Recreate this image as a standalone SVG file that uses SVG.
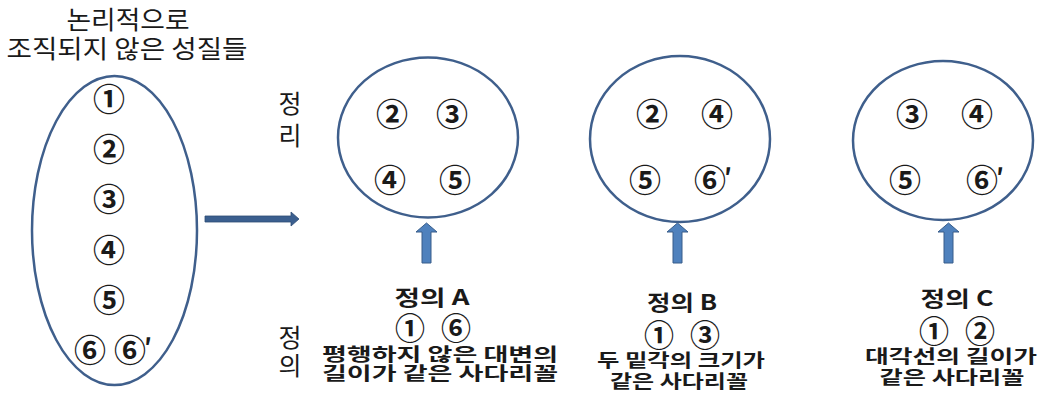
<svg xmlns="http://www.w3.org/2000/svg" width="1042" height="393" viewBox="0 0 1042 393">
<style>
.bg{fill:#ffffff}
.set{fill:none;stroke:#3f5f8c;stroke-width:2.5}
.t{font-family:"Noto Sans CJK KR","Noto Sans",sans-serif;fill:#1a1a1a}
.title{font-size:25px;font-weight:400;text-anchor:middle}
.side{font-size:25px;font-weight:400;text-anchor:middle}
.num{font-size:32px;font-weight:700;text-anchor:middle}
.nump{font-size:32px;font-weight:700;text-anchor:start}
.pr{font-size:24px;font-weight:700}
.head{font-size:21px;font-weight:700;text-anchor:middle}
.lab{font-size:18px;font-weight:700;text-anchor:middle}
.arrowR{fill:#3b5f8f;stroke:#2f4d75;stroke-width:0.8}
.arrowU{fill:#4f81bd;stroke:#385d8a;stroke-width:1}
</style>
<rect class="bg" x="0" y="0" width="1042" height="393"/>

<g id="title">
<text class="t title" x="128" y="18" dominant-baseline="central" textLength="123" lengthAdjust="spacingAndGlyphs">논리적으로</text>
<text class="t title" x="127" y="47" dominant-baseline="central" textLength="241" lengthAdjust="spacingAndGlyphs">조직되지 않은 성질들</text>
</g>

<g id="side-labels">
<text class="t side" x="290" y="102" dominant-baseline="central">정</text>
<text class="t side" x="290" y="134" dominant-baseline="central">리</text>
<text class="t side" x="290" y="336" dominant-baseline="central">정</text>
<text class="t side" x="290" y="364" dominant-baseline="central">의</text>
</g>

<g id="unorganized">
<ellipse class="set" cx="114.5" cy="230.5" rx="82.5" ry="154.5"/>
<text class="t num" x="109" y="97" dominant-baseline="central">①</text>
<text class="t num" x="109" y="147" dominant-baseline="central">②</text>
<text class="t num" x="109" y="197" dominant-baseline="central">③</text>
<text class="t num" x="109" y="248" dominant-baseline="central">④</text>
<text class="t num" x="109" y="298" dominant-baseline="central">⑤</text>
<text class="t num" x="90" y="348" dominant-baseline="central">⑥</text>
<text class="t nump" x="114" y="348" dominant-baseline="central">⑥<tspan class="pr" dx="-2" dy="-3">′</tspan></text>
</g>

<g id="theoremA">
<ellipse class="set" cx="428" cy="137.5" rx="90" ry="80"/>
<text class="t num" x="392" y="112" dominant-baseline="central">②</text>
<text class="t num" x="452" y="112" dominant-baseline="central">③</text>
<text class="t num" x="390" y="178" dominant-baseline="central">④</text>
<text class="t num" x="455" y="178" dominant-baseline="central">⑤</text>
</g>

<g id="theoremB">
<ellipse class="set" cx="680" cy="139" rx="90" ry="83"/>
<text class="t num" x="652" y="112" dominant-baseline="central">②</text>
<text class="t num" x="717" y="112" dominant-baseline="central">④</text>
<text class="t num" x="645" y="178" dominant-baseline="central">⑤</text>
<text class="t nump" x="694" y="178" dominant-baseline="central">⑥<tspan class="pr" dx="-2" dy="-3">′</tspan></text>
</g>

<g id="theoremC">
<ellipse class="set" cx="943" cy="140.5" rx="90" ry="79.5"/>
<text class="t num" x="912" y="112" dominant-baseline="central">③</text>
<text class="t num" x="977" y="112" dominant-baseline="central">④</text>
<text class="t num" x="905" y="178" dominant-baseline="central">⑤</text>
<text class="t nump" x="966" y="178" dominant-baseline="central">⑥<tspan class="pr" dx="-2" dy="-3">′</tspan></text>
</g>

<g id="defA">
<text class="t head" x="432" y="296" dominant-baseline="central" textLength="75" lengthAdjust="spacingAndGlyphs">정의 A</text>
<text class="t num" x="410" y="326" dominant-baseline="central" style="font-size:30px">①</text>
<text class="t num" x="456" y="326" dominant-baseline="central" style="font-size:30px">⑥</text>
<text class="t lab" x="440" y="353" dominant-baseline="central" textLength="236" lengthAdjust="spacingAndGlyphs">평행하지 않은 대변의</text>
<text class="t lab" x="440" y="372" dominant-baseline="central" textLength="236" lengthAdjust="spacingAndGlyphs">길이가 같은 사다리꼴</text>
</g>

<g id="defB">
<text class="t head" x="682" y="301" dominant-baseline="central" textLength="70" lengthAdjust="spacingAndGlyphs">정의 B</text>
<text class="t num" x="659" y="333" dominant-baseline="central" style="font-size:30px">①</text>
<text class="t num" x="705" y="333" dominant-baseline="central" style="font-size:30px">③</text>
<text class="t lab" x="681" y="359" dominant-baseline="central" textLength="168" lengthAdjust="spacingAndGlyphs">두 밑각의 크기가</text>
<text class="t lab" x="679" y="380" dominant-baseline="central" textLength="138" lengthAdjust="spacingAndGlyphs">같은 사다리꼴</text>
</g>

<g id="defC">
<text class="t head" x="957" y="297" dominant-baseline="central" textLength="73" lengthAdjust="spacingAndGlyphs">정의 C</text>
<text class="t num" x="934" y="329" dominant-baseline="central" style="font-size:30px">①</text>
<text class="t num" x="980" y="329" dominant-baseline="central" style="font-size:30px">②</text>
<text class="t lab" x="951" y="355" dominant-baseline="central" textLength="172" lengthAdjust="spacingAndGlyphs">대각선의 길이가</text>
<text class="t lab" x="952" y="376" dominant-baseline="central" textLength="145" lengthAdjust="spacingAndGlyphs">같은 사다리꼴</text>
</g>

<g id="connectors">
<path class="arrowR" d="M205,216 L291,216 L291,212 L299,219 L291,226 L291,222 L205,222 Z"/>
<path class="arrowU" d="M422,263 L422,232 L416,232 L426.5,223 L437,232 L431,232 L431,263 Z"/>
<path class="arrowU" d="M673,263 L673,232 L667,232 L677.5,223 L688,232 L682,232 L682,263 Z"/>
<path class="arrowU" d="M944,263 L944,232 L938,232 L948.5,223 L959,232 L953,232 L953,263 Z"/>
</g>
</svg>
